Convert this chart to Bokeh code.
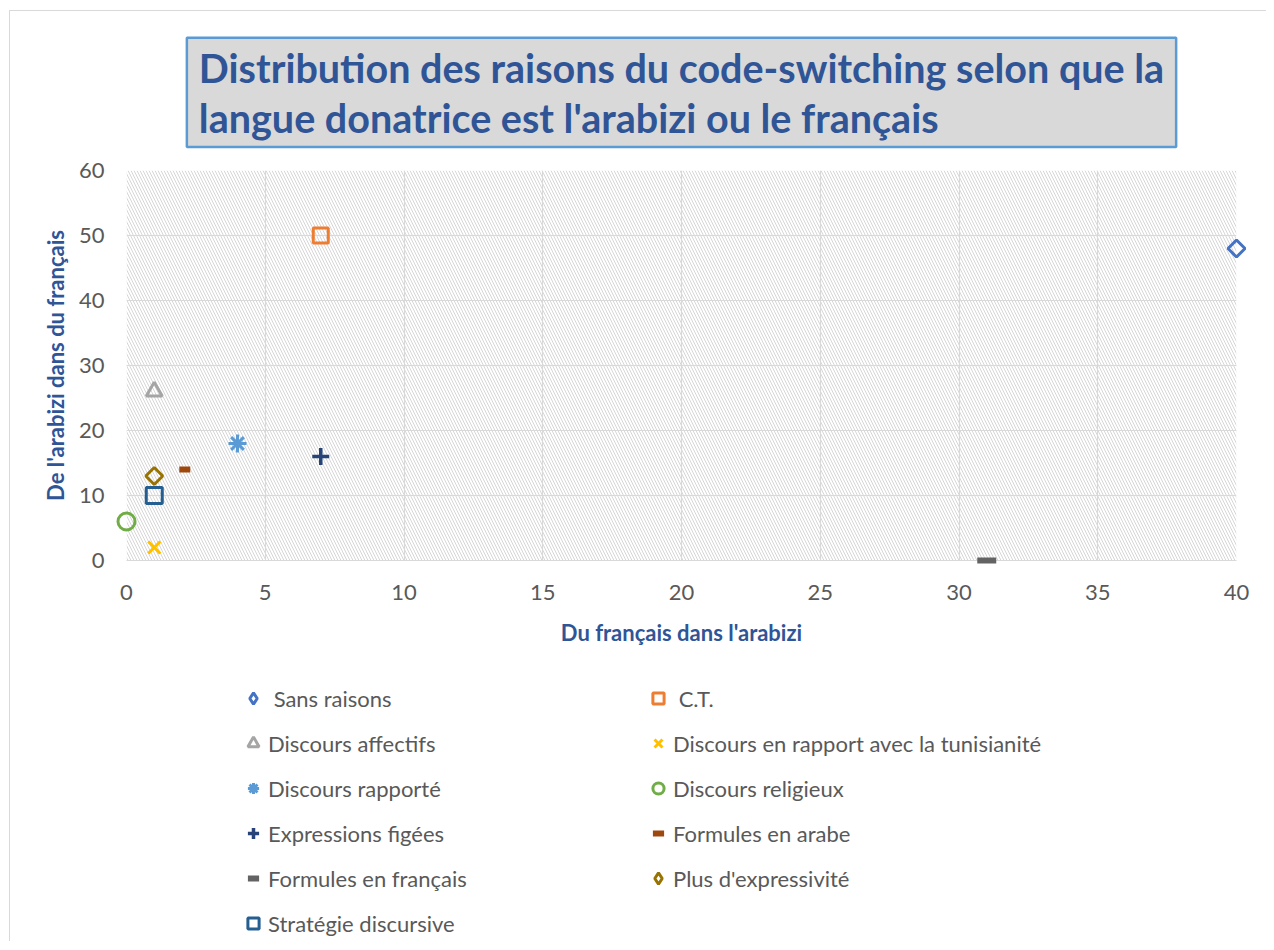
import math
from bokeh.plotting import figure
from bokeh.layouts import column
from bokeh.models import (BoxAnnotation, Legend, LegendItem, FixedTicker, Title)
from bokeh.embed import file_html
from bokeh.resources import INLINE

# ---- data ----
series = ["Sans raisons", "C.T.", "Discours affectifs",
          "Discours en rapport avec la tunisianité", "Discours rapporté",
          "Discours religieux", "Expressions figées", "Formules en arabe",
          "Formules en français", "Plus d'expressivité", "Stratégie discursive"]
legend_labels = [" Sans raisons", " C.T.", "Discours affectifs",
                 "Discours en rapport avec la tunisianité", "Discours rapporté",
                 "Discours religieux", "Expressions figées", "Formules en arabe",
                 "Formules en français", "Plus d'expressivité", "Stratégie discursive"]
x_vals = [40, 7, 1, 1, 4, 0, 7, 2.1, 31, 1, 1]
y_vals = [48, 50, 26, 2, 18, 6, 16, 14, 0, 13, 10]
x_ticks = [0, 5, 10, 15, 20, 25, 30, 35, 40]
y_ticks = [0, 10, 20, 30, 40, 50, 60]

title_lines = ["Distribution des raisons du code-switching selon que la",
               "langue donatrice est l'arabizi ou le français"]
x_title = "Du français dans l'arabizi"
y_title = "De l'arabizi dans du français"

# ---- styles ----
colors = ["#4472C4", "#ED7D31", "#A5A5A5", "#FFC000", "#5B9BD5", "#70AD47",
          "#264478", "#9E480E", "#636363", "#997300", "#255E91"]
markers = ["square", "square", "triangle", "x", "asterisk", "circle",
           "cross", "dash", "dash", "square", "square"]
legend_markers = ["diamond", "square", "triangle", "x", "asterisk", "circle",
                  "cross", "dash", "dash", "diamond", "square"]
angles = [math.pi / 4, 0, 0, 0, 0, 0, 0, 0, 0, math.pi / 4, 0]
sizes = [12, 15, 16, 17, 18, 17, 17, 11, 19, 12, 16]
widths = [3, 3, 3, 3, 3, 3, 3.5, 6, 6, 3, 3]

FONT = "Lato"
TEXT_GREY = "#595959"
TITLE_BLUE = "#2F5597"
W = 1256

p = figure(width=W, height=654, x_range=(0, 40), y_range=(0, 60),
           output_backend="svg", toolbar_location=None,
           min_border_left=116, min_border_right=30,
           min_border_top=159, min_border_bottom=105)
p.background_fill_color = "white"
p.border_fill_color = "white"
p.outline_line_color = None

p.title = Title(text="\n".join(title_lines), align="center",
                text_font=FONT, text_font_style="bold", text_font_size="39.5px",
                text_color=TITLE_BLUE, text_line_height=1.07,
                background_fill_color="#D9D9D9", border_line_color="#5B9BD5",
                border_line_width=2.5,
                padding={"left": 12, "right": 12, "top": 6, "bottom": 6},
                standoff=47)

# hatch in plot area
hatch = BoxAnnotation(fill_alpha=0, line_alpha=0, hatch_pattern="\\",
                      hatch_color="#D6D6D6", hatch_scale=6, hatch_weight=1,
                      level="image")
p.add_layout(hatch)

# axes
p.xaxis.ticker = FixedTicker(ticks=x_ticks)
p.yaxis.ticker = FixedTicker(ticks=y_ticks)
for ax in (p.xaxis[0], p.yaxis[0]):
    ax.major_tick_line_color = None
    ax.minor_tick_line_color = None
    ax.major_tick_out = 0
    ax.major_tick_in = 0
    ax.minor_tick_out = 0
    ax.major_label_text_font = FONT
    ax.major_label_text_font_size = "22px"
    ax.major_label_text_color = TEXT_GREY
    ax.axis_label_text_font = FONT
    ax.axis_label_text_font_style = "bold"
    ax.axis_label_text_font_size = "22px"
    ax.axis_label_text_color = TITLE_BLUE
p.xaxis.axis_line_color = "#D9D9D9"
p.yaxis.axis_line_color = None
p.xaxis.major_label_standoff = 24
p.yaxis.major_label_standoff = 22
p.xaxis.axis_label = x_title
p.yaxis.axis_label = y_title
p.xaxis.axis_label_standoff = 16
p.yaxis.axis_label_standoff = 7

p.xgrid.ticker = FixedTicker(ticks=x_ticks)
p.ygrid.ticker = FixedTicker(ticks=y_ticks)
p.grid.grid_line_color = "#D9D9D9"
p.grid.grid_line_width = 1.2

# series in the chart
for i in range(len(series)):
    p.scatter(x=[x_vals[i]], y=[y_vals[i]], marker=markers[i],
              size=sizes[i], angle=angles[i], fill_color=None,
              line_color=colors[i], line_width=widths[i], level="overlay")

# legend panel (separate figure so the legend is not clipped)
pl = figure(width=W, height=276, output_backend="svg", toolbar_location=None,
            x_axis_type=None, y_axis_type=None,
            min_border_left=0, min_border_right=0, min_border_top=0,
            min_border_bottom=0)
pl.outline_line_color = None
pl.background_fill_color = "white"
pl.border_fill_color = "white"
pl.grid.visible = False
leg_renderers = []
for i in range(len(series)):
    r = pl.scatter(x=[x_vals[i]], y=[y_vals[i]], marker=legend_markers[i],
                   size=sizes[i], fill_color=None,
                   line_color=colors[i], line_width=widths[i], visible=False)
    leg_renderers.append(r)

legend = Legend(items=[LegendItem(label=legend_labels[i], renderers=[leg_renderers[i]])
                       for i in range(len(series))],
                orientation="horizontal", ncols=2,
                location=(112, 4), padding=0, margin=0,
                border_line_color=None, background_fill_alpha=0,
                inactive_fill_alpha=0,
                glyph_width=30, glyph_height=28, label_height=28,
                label_width=358, label_standoff=0, spacing=17,
                label_text_font=FONT, label_text_font_size="22px",
                label_text_color=TEXT_GREY)
pl.add_layout(legend)

layout = column(p, pl, spacing=0,
                styles={"margin-left": "9px", "margin-top": "10px",
                        "border-left": "1px solid #D9D9D9",
                        "border-top": "1px solid #D9D9D9"})

open("out.html", "w").write(file_html(layout, INLINE))
